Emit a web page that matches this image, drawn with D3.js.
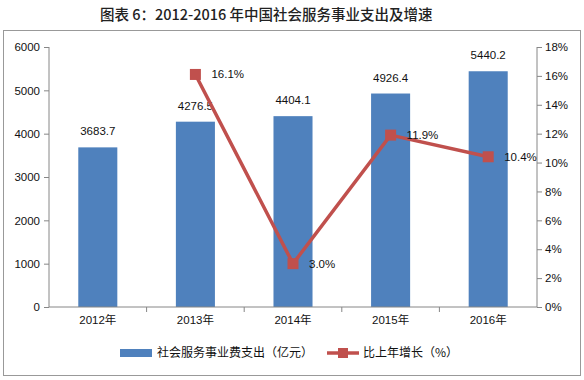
<!DOCTYPE html>
<html><head><meta charset="utf-8">
<script src="https://cdn.jsdelivr.net/npm/d3@7"></script>
<style>body{margin:0;background:#fff}svg{display:block}</style>
</head><body>
<script>
const categories = ["2012年","2013年","2014年","2015年","2016年"];
const spending = [3683.7, 4276.5, 4404.1, 4926.4, 5440.2];
const growth = [null, 16.1, 3.0, 11.9, 10.4];
const leftTicks = [0,1000,2000,3000,4000,5000,6000];
const rightTicks = [0,2,4,6,8,10,12,14,16,18];
const title = "图表 6：2012-2016 年中国社会服务事业支出及增速";
const legendBar = "社会服务事业费支出（亿元）";
const legendLine = "比上年增长（%）";

const W=584,H=380;
const svg=d3.select("body").append("svg").attr("width",W).attr("height",H);
const font="'Liberation Sans','Noto Sans CJK SC',sans-serif";
svg.append("text").attr("x",100).attr("y",20).attr("font-family","'Noto Sans CJK SC',sans-serif")
  .attr("font-size",14.5).attr("font-weight",500).attr("fill","#222").text(title);
svg.append("rect").attr("x",3.5).attr("y",30.5).attr("width",577).attr("height",345).attr("fill","none").attr("stroke","#999");

const L=49,R=537,T=47,B=307;
const x=d3.scaleBand().domain(categories).range([L,R]).paddingInner(0.6).paddingOuter(0.3);
const xb=d3.scaleBand().domain(categories).range([L,R]);
const y=d3.scaleLinear().domain([0,6000]).range([B,T]);
const y2=d3.scaleLinear().domain([0,18]).range([B,T]);

// bars
svg.append("g").selectAll("rect").data(spending).join("rect")
  .attr("x",(d,i)=>x(categories[i])).attr("width",x.bandwidth())
  .attr("y",d=>y(d)).attr("height",d=>B-y(d)).attr("fill","#4F81BD");
svg.append("g").selectAll("text").data(spending).join("text")
  .attr("x",(d,i)=>xb(categories[i])+xb.bandwidth()/2).attr("y",d=>y(d)-12)
  .attr("text-anchor","middle").attr("font-family",font).attr("font-size",11.5).attr("fill","#111")
  .text(d=>d.toFixed(1));

// axes
const axC="#868686";
const gl=svg.append("g").attr("transform",`translate(${L},0)`).call(d3.axisLeft(y).tickValues(leftTicks).tickSize(5).tickPadding(4).tickFormat(d3.format("d")));
const gr=svg.append("g").attr("transform",`translate(${R},0)`).call(d3.axisRight(y2).tickValues(rightTicks).tickSize(5).tickPadding(3).tickFormat(d=>d+"%"));
const gx=svg.append("g").attr("transform",`translate(0,${B})`).call(d3.axisBottom(xb).tickSize(0).tickPadding(9));
[gl,gr,gx].forEach(g=>{g.selectAll("path,line").attr("stroke",axC);g.selectAll("text").attr("font-family",font).attr("font-size",11.5).attr("fill","#111");});
gl.select(".domain").attr("d",`M0,${T}V${B}`);
gr.select(".domain").attr("d",`M0,${T}V${B}`);
gx.select(".domain").attr("d",`M${L},0H${R}`);
svg.append("g").selectAll("line").data(categories.slice(1)).join("line")
  .attr("x1",d=>xb(d)).attr("x2",d=>xb(d)).attr("y1",B).attr("y2",B+5).attr("stroke",axC);

// line
const pts=growth.map((g,i)=>({g,c:categories[i]})).filter(p=>p.g!=null);
const cx=c=>xb(c)+xb.bandwidth()/2;
svg.append("path").datum(pts).attr("fill","none").attr("stroke","#C0504D").attr("stroke-width",3.5)
  .attr("d",d3.line().x(p=>cx(p.c)).y(p=>y2(p.g)));
svg.append("g").selectAll("rect").data(pts).join("rect")
  .attr("x",p=>cx(p.c)-5.5).attr("y",p=>y2(p.g)-5.5).attr("width",11).attr("height",11).attr("fill","#C0504D");
svg.append("g").selectAll("text").data(pts).join("text")
  .attr("x",p=>cx(p.c)+16).attr("y",p=>y2(p.g)+4).attr("font-family",font).attr("font-size",11.5).attr("fill","#111")
  .text(p=>p.g.toFixed(1)+"%");

// legend
const ly=353;
svg.append("rect").attr("x",120).attr("y",ly-4).attr("width",32).attr("height",8).attr("fill","#4F81BD");
svg.append("text").attr("x",157).attr("y",ly+4).attr("font-family","'Noto Sans CJK SC',sans-serif").attr("font-size",12).attr("fill","#111").text(legendBar);
svg.append("line").attr("x1",327).attr("x2",359).attr("y1",ly).attr("y2",ly).attr("stroke","#C0504D").attr("stroke-width",3.5);
svg.append("rect").attr("x",338).attr("y",ly-5).attr("width",10).attr("height",10).attr("fill","#C0504D");
svg.append("text").attr("x",363).attr("y",ly+4).attr("font-family","'Noto Sans CJK SC',sans-serif").attr("font-size",12).attr("fill","#111").text(legendLine);
</script>
</body></html>
